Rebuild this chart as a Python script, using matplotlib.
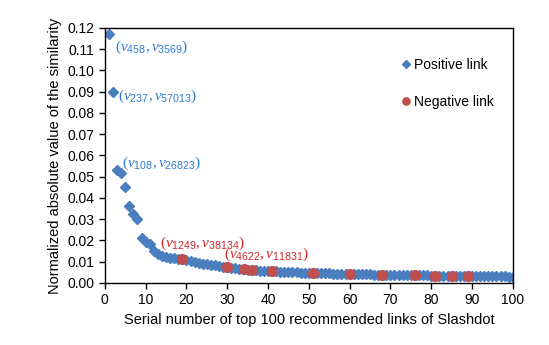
import matplotlib.pyplot as plt
import numpy as np

plt.rcParams['font.family'] = ['Liberation Sans', 'DejaVu Sans']
plt.rcParams['mathtext.fontset'] = 'custom'
plt.rcParams['mathtext.it'] = 'Liberation Serif:italic'
plt.rcParams['mathtext.rm'] = 'Liberation Serif'
plt.rcParams['mathtext.sf'] = 'Liberation Sans'

# similarity of top 100 recommended links (rank 1..100)
rank = list(range(1, 101))
similarity = [
    0.1172, 0.0900, 0.0530, 0.0518, 0.0450, 0.0362, 0.0325, 0.0302, 0.0210, 0.0193,
    0.0185, 0.0152, 0.0137, 0.0127, 0.0122, 0.0118, 0.0116, 0.0114, 0.0112, 0.0109,
    0.0104, 0.0099, 0.0095, 0.0091, 0.0088, 0.0085, 0.0082, 0.0080, 0.0077, 0.0075,
    0.0072, 0.0069, 0.0067, 0.0065, 0.0063, 0.0062, 0.0060, 0.0058, 0.0057, 0.0056,
    0.0055, 0.0054, 0.0053, 0.0052, 0.0051, 0.0050, 0.0049, 0.0048, 0.0048, 0.0047,
    0.0047, 0.0046, 0.0046, 0.0045, 0.0045, 0.0044, 0.0044, 0.0043, 0.0043, 0.0042,
    0.0042, 0.0041, 0.0041, 0.0040, 0.0040, 0.0039, 0.0039, 0.0039, 0.0038, 0.0038,
    0.0037, 0.0037, 0.0037, 0.0036, 0.0036, 0.0036, 0.0035, 0.0035, 0.0035, 0.0034,
    0.0034, 0.0034, 0.0034, 0.0033, 0.0033, 0.0033, 0.0033, 0.0033, 0.0032, 0.0032,
    0.0032, 0.0032, 0.0032, 0.0031, 0.0031, 0.0031, 0.0031, 0.0031, 0.0030, 0.0030,
]
negative_ranks = [19, 30, 34, 36, 41, 51, 60, 68, 76, 81, 85, 89]

# annotations: text, x, y, colour
labels = [
    (r'$(v_{\mathsf{458}},v_{\mathsf{3569}})$', 2.4, 0.111, '#2E7BCF'),
    (r'$(v_{\mathsf{237}},v_{\mathsf{57013}})$', 3.3, 0.088, '#2E7BCF'),
    (r'$(v_{\mathsf{108}},v_{\mathsf{26823}})$', 4.2, 0.0565, '#2E7BCF'),
    (r'$(v_{\mathsf{1249}},v_{\mathsf{38134}})$', 13.4, 0.0188, '#D02A2A'),
    (r'$(v_{\mathsf{4622}},v_{\mathsf{11831}})$', 29.3, 0.0136, '#D02A2A'),
]

blue = '#4A7EBF'
red = '#C0504D'

rank_a = np.array(rank)
sim_a = np.array(similarity)
neg = np.isin(rank_a, negative_ranks)

fig = plt.figure(figsize=(5.49, 3.45), dpi=100)
ax = fig.add_axes([0.191, 0.180, 0.743, 0.739])

ax.plot(rank_a[~neg], sim_a[~neg], 'D', color=blue, markersize=5.5, label='Positive link')
ax.plot(rank_a[neg], sim_a[neg], 'o', color=red, markersize=7, label='Negative link')

for txt, x, y, c in labels:
    ax.text(x, y, txt, color=c, fontsize=11, va='center', ha='left')

ax.set_xlim(0, 100)
ax.set_ylim(0, 0.12)
ax.set_xticks(np.arange(0, 101, 10))
ax.set_yticks(np.arange(0, 0.121, 0.01))
ax.yaxis.set_major_formatter(plt.FormatStrFormatter('%.2f'))
ax.tick_params(direction='out', length=4, labelsize=10, width=1)
for s in ax.spines.values():
    s.set_linewidth(1)
    s.set_color('black')

ax.set_xlabel('Serial number of top 100 recommended links of Slashdot', fontsize=10.5)
ax.set_ylabel('Normalized absolute value of the similarity', fontsize=10.5)

ax.legend(loc='upper right', frameon=False, fontsize=10, handletextpad=0.1,
          labelspacing=1.6, markerscale=0.75, bbox_to_anchor=(0.985, 0.93), handlelength=1)

fig.savefig('out.png', dpi=100)
